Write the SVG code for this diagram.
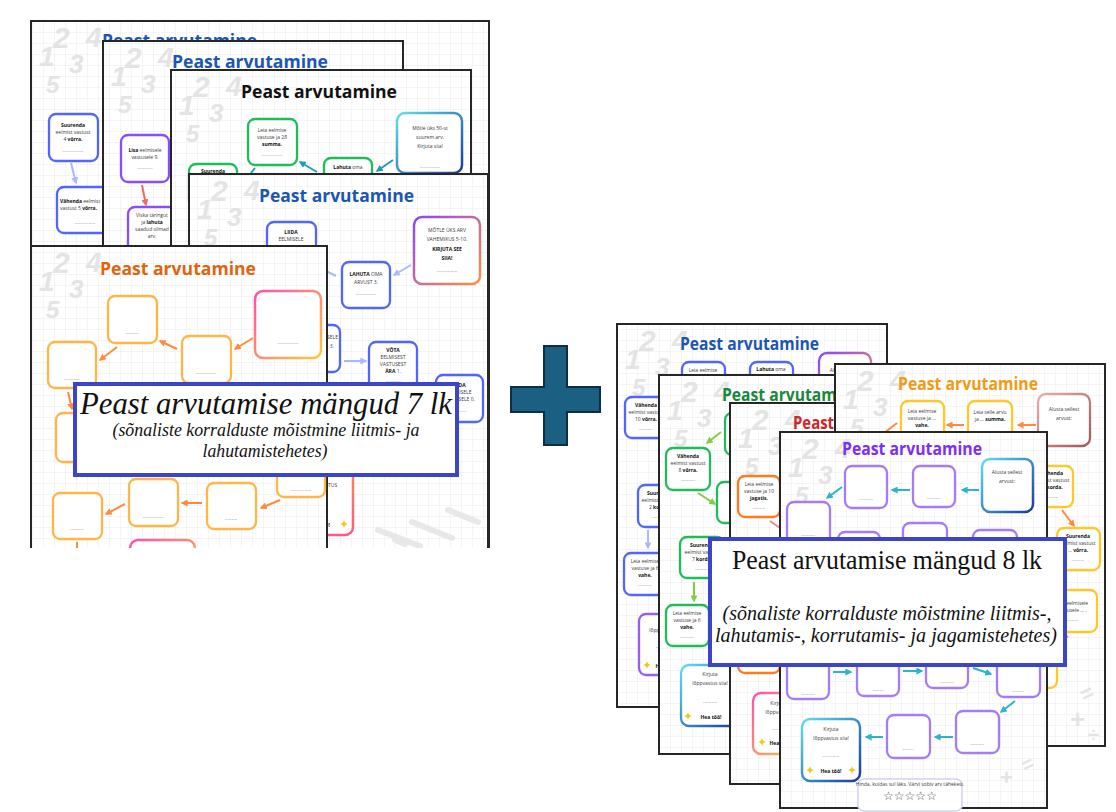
<svg xmlns="http://www.w3.org/2000/svg" width="1116" height="812" viewBox="0 0 1116 812">
<defs>
<style>
.pg{fill:url(#grid);stroke:#262626;stroke-width:2}
.bx{fill:#fff;stroke-width:2.3}
.bl{stroke:#5266ff}
.pu{stroke:#8c4bff}
.gr{stroke:#1fbd5a}
.oy{stroke:#ffb547}
.ye{stroke:#ffc82a}
.vp{stroke:#a67cf6}
.or{stroke:#ff7a1f}
.s{font-family:"Open Sans","Liberation Sans",sans-serif;font-size:5px;fill:#3a3a3a;text-anchor:middle}
.b{font-weight:700;fill:#111}
.d{font-family:"Liberation Sans",sans-serif;font-size:5px;fill:#555;text-anchor:middle}
.ti{font-family:"Open Sans","Liberation Sans",sans-serif;font-weight:700;font-size:18px}
.nm{font-family:"Liberation Sans",sans-serif;font-weight:700;font-style:italic;fill:#e4e4e4}
.ar{fill:none;stroke-width:2}
.lab{fill:#fff;stroke:#3b45c9;stroke-width:4}
.ls{font-family:"Liberation Serif","Times New Roman",serif;fill:#111;text-anchor:middle}
.deco{stroke:#e8e8e8;stroke-width:6;stroke-linecap:round;fill:none}
.mth{font-family:"Liberation Sans",sans-serif;font-weight:700;fill:#e4e4e4}
</style>
<pattern id="grid" width="11" height="11" patternUnits="userSpaceOnUse"><rect width="11" height="11" fill="#fff"/><path d="M11 0V11H0" fill="none" stroke="#e6e6e6" stroke-width="0.8"/></pattern>
<linearGradient id="g1" x1="0" y1="0" x2="1" y2="1"><stop offset="0" stop-color="#5fe0ec"/><stop offset="1" stop-color="#1a3a9e"/></linearGradient>
<linearGradient id="g2" x1="0" y1="0" x2="1" y2="1"><stop offset="0" stop-color="#8a47ff"/><stop offset="1" stop-color="#ff8f40"/></linearGradient>
<linearGradient id="g3" x1="0" y1="0" x2="1" y2="1"><stop offset="0" stop-color="#ff4fae"/><stop offset="1" stop-color="#ffc93c"/></linearGradient>
<linearGradient id="g4" x1="0" y1="0" x2="1" y2="1"><stop offset="0" stop-color="#e6b0b0"/><stop offset="1" stop-color="#a85454"/></linearGradient>
<linearGradient id="g6" x1="0" y1="0" x2="0" y2="1"><stop offset="0" stop-color="#ff9a3c"/><stop offset="1" stop-color="#ff5a86"/></linearGradient>
<marker id="mLb" viewBox="0 0 10 10" refX="8" refY="5" markerWidth="3.5" markerHeight="3.5" orient="auto"><path d="M0,0L10,5L0,10z" fill="#a9b8ff"/></marker>
<marker id="mTe" viewBox="0 0 10 10" refX="8" refY="5" markerWidth="3.5" markerHeight="3.5" orient="auto"><path d="M0,0L10,5L0,10z" fill="#1f9db8"/></marker>
<marker id="mRd" viewBox="0 0 10 10" refX="8" refY="5" markerWidth="3.5" markerHeight="3.5" orient="auto"><path d="M0,0L10,5L0,10z" fill="#f06a60"/></marker>
<marker id="mOr" viewBox="0 0 10 10" refX="8" refY="5" markerWidth="3.5" markerHeight="3.5" orient="auto"><path d="M0,0L10,5L0,10z" fill="#ff8a3d"/></marker>
<marker id="mGr" viewBox="0 0 10 10" refX="8" refY="5" markerWidth="3.5" markerHeight="3.5" orient="auto"><path d="M0,0L10,5L0,10z" fill="#84cc44"/></marker>
<marker id="mCy" viewBox="0 0 10 10" refX="8" refY="5" markerWidth="3.5" markerHeight="3.5" orient="auto"><path d="M0,0L10,5L0,10z" fill="#2ab4d0"/></marker>
<g id="nums" class="nm">
<text x="8" y="45" font-size="28">1</text>
<text x="22" y="27" font-size="30">2</text>
<text x="55" y="26" font-size="28">4</text>
<text x="38" y="52" font-size="26">3</text>
<text x="15" y="72" font-size="24">5</text>
</g>
<path id="sp" d="M0,-4Q0.6,-0.6 4,0Q0.6,0.6 0,4Q-0.6,0.6 -4,0Q-0.6,-0.6 0,-4z" fill="#f5c518"/>
<clipPath id="cl"><rect x="0" y="0" width="500" height="548"/></clipPath>
</defs>
<rect width="1116" height="812" fill="#fff"/>

<g id="left-stack" clip-path="url(#cl)">
<g id="page-a1">
<rect class="pg" x="31" y="21" width="458" height="540"/>
<use href="#nums" x="31" y="21"/>
<text class="ti" x="102" y="47" textLength="155" lengthAdjust="spacingAndGlyphs" fill="#1b56b5">Peast arvutamine</text>
<rect class="bx bl" x="49" y="114" width="49" height="47" rx="7"/>
<text class="s" x="73" y="127"><tspan class="b">Suurenda</tspan></text>
<text class="s" x="73" y="134">eelmist vastust</text>
<text class="s" x="73" y="141">4 <tspan class="b">võrra.</tspan></text>
<text class="d" x="73" y="152">...............</text>
<path class="ar" stroke="#a9b8ff" d="M71,163L76,183" marker-end="url(#mLb)"/>
<rect class="bx bl" x="57" y="187" width="55" height="46" rx="7"/>
<text class="s" x="60" y="203" style="text-anchor:start"><tspan class="b">Vähenda</tspan> eelmist</text>
<text class="s" x="60" y="210" style="text-anchor:start">vastust 5 <tspan class="b">võrra.</tspan></text>
<text class="d" x="85" y="224">...............</text>
</g>

<g id="page-a2">
<rect class="pg" x="103" y="41" width="300" height="520"/>
<use href="#nums" x="103" y="41"/>
<text class="ti" x="172" y="68" textLength="156" lengthAdjust="spacingAndGlyphs" fill="#1b56b5">Peast arvutamine</text>
<rect class="bx pu" x="121" y="135" width="48" height="47" rx="7"/>
<text class="s" x="145" y="152"><tspan class="b">Lisa</tspan> eelmisele</text>
<text class="s" x="145" y="159">vastusele 9.</text>
<text class="d" x="145" y="169">...........</text>
<path class="ar" stroke="#f06a60" d="M142,185L146,205" marker-end="url(#mRd)"/>
<rect class="bx pu" x="128" y="207" width="48" height="50" rx="7"/>
<text class="s" x="152" y="217">Viska täringut</text>
<text class="s" x="152" y="224">ja <tspan class="b">lahuta</tspan></text>
<text class="s" x="152" y="231">saadud silmad</text>
<text class="s" x="152" y="238">arv.</text>
</g>

<g id="page-a3">
<rect class="pg" x="171" y="70" width="300" height="490"/>
<use href="#nums" x="171" y="70"/>
<text class="ti" x="241" y="98" textLength="156" lengthAdjust="spacingAndGlyphs" fill="#111">Peast arvutamine</text>
<rect class="bx gr" x="248" y="119" width="49" height="46" rx="7"/>
<text class="s" x="272" y="132">Leia eelmise</text>
<text class="s" x="272" y="139">vastuse ja 28</text>
<text class="s" x="272" y="146"><tspan class="b">summa.</tspan></text>
<text class="d" x="272" y="156">...............</text>
<rect class="bx gr" x="189" y="164" width="48" height="44" rx="7"/>
<text class="s" x="213" y="173"><tspan class="b">Suurenda</tspan></text>
<rect class="bx gr" x="324" y="158" width="48" height="44" rx="7"/>
<text class="s" x="348" y="169"><tspan class="b">Lahuta</tspan> oma</text>
<rect x="397" y="113" width="65" height="60" rx="8" fill="#fff" stroke="url(#g1)" stroke-width="2.5"/>
<text class="s" x="430" y="130" font-size="5.8">Mõtle üks 50-st</text>
<text class="s" x="430" y="139" font-size="5.8">suurem arv.</text>
<text class="s" x="430" y="148" font-size="5.8">Kirjuta siia!</text>
<text class="d" x="430" y="168">...............</text>
<path class="ar" stroke="#1f9db8" d="M393,160L377,171" marker-end="url(#mTe)"/>
<path class="ar" stroke="#1f9db8" d="M317,172L300,162" marker-end="url(#mTe)"/>
<path class="ar" stroke="#1f9db8" d="M255,168L251,173"/>
</g>

<g id="page-a4">
<rect class="pg" x="189" y="174" width="299" height="390"/>
<use href="#nums" x="189" y="174"/>
<text class="ti" x="259" y="202" textLength="155" lengthAdjust="spacingAndGlyphs" fill="#1b56b5">Peast arvutamine</text>
<rect class="bx bl" x="267" y="222" width="49" height="46" rx="7"/>
<text class="s" x="291" y="234"><tspan class="b">LIIDA</tspan></text>
<text class="s" x="291" y="241">EELMISELE</text>
<rect class="bx bl" x="342" y="262" width="48" height="46" rx="7"/>
<text class="s" x="366" y="276"><tspan class="b">LAHUTA</tspan> OMA</text>
<text class="s" x="366" y="284">ARVUST 3.</text>
<text class="d" x="366" y="295">...............</text>
<rect x="414" y="217" width="66" height="67" rx="8" fill="#fff" stroke="url(#g2)" stroke-width="2.5"/>
<text class="s" x="447" y="232" font-size="5.6">MÕTLE ÜKS ARV</text>
<text class="s" x="447" y="241" font-size="5.6">VAHEMIKUS 5-10.</text>
<text class="s" x="447" y="251" font-size="5.6"><tspan class="b">KIRJUTA SEE</tspan></text>
<text class="s" x="447" y="260" font-size="5.6"><tspan class="b">SIIA!</tspan></text>
<text class="d" x="447" y="272">...............</text>
<path class="ar" stroke="#a9b8ff" d="M411,265L394,275" marker-end="url(#mLb)"/>
<path class="ar" stroke="#a9b8ff" d="M336,276L326,271"/>
<rect class="bx bl" x="300" y="325" width="40" height="47" rx="7"/>
<text class="s" x="338" y="339" style="text-anchor:end">EELMISELE</text>
<text class="s" x="334" y="348" style="text-anchor:end">3.</text>
<path class="ar" stroke="#a9b8ff" d="M344,361L366,361" marker-end="url(#mLb)"/>
<rect class="bx bl" x="369" y="342" width="48" height="50" rx="7"/>
<text class="s" x="393" y="352"><tspan class="b">VÕTA</tspan></text>
<text class="s" x="393" y="359">EELMISEST</text>
<text class="s" x="393" y="366">VASTUSEST</text>
<text class="s" x="393" y="373"><tspan class="b">ÄRA</tspan> 1.</text>
<text class="d" x="393" y="382">...........</text>
<rect class="bx bl" x="436" y="375" width="47" height="47" rx="7"/>
<text class="s" x="459" y="387"><tspan class="b">LIIDA</tspan></text>
<text class="s" x="459" y="394">EELMISELE</text>
<text class="s" x="459" y="401">VASTUSELE 0.</text>
<text class="d" x="459" y="412">...........</text>
<rect x="291" y="440" width="62" height="95" rx="8" fill="#fff" stroke="url(#g6)" stroke-width="2.5"/>
<text class="s" x="322" y="477">KIRJUTA</text>
<text class="s" x="322" y="487">LÕPPVASTUS</text>
<text class="s" x="322" y="497">SIIA!</text>
<text class="d" x="322" y="508">.........</text>
<text class="s" x="318" y="527" font-size="6"><tspan class="b">HEA TÖÖ!</tspan></text>
<use href="#sp" x="344" y="524"/>
<path class="deco" d="M378,530L420,546M412,522L452,538M448,510L478,522M395,540L405,544"/>
</g>

<g id="page-a5">
<rect class="pg" x="31" y="246" width="296" height="320"/>
<use href="#nums" x="31" y="246"/>
<text class="ti" x="100" y="275" textLength="156" lengthAdjust="spacingAndGlyphs" fill="#e2630d">Peast arvutamine</text>
<rect class="bx oy" x="108" y="296" width="49" height="47" rx="7"/>
<text class="d" x="132" y="334">..........</text>
<rect x="255" y="291" width="66" height="67" rx="8" fill="#fff" stroke="url(#g3)" stroke-width="2.5"/>
<text class="d" x="288" y="344">...............</text>
<rect class="bx oy" x="182" y="336" width="49" height="47" rx="7"/>
<text class="d" x="206" y="374">...............</text>
<rect class="bx oy" x="48" y="342" width="48" height="46" rx="7"/>
<text class="d" x="72" y="380">...........</text>
<rect class="bx oy" x="56" y="413" width="48" height="49" rx="7"/>
<text class="d" x="80" y="452">..........</text>
<rect class="bx oy" x="277" y="448" width="48" height="49" rx="7"/>
<text class="d" x="301" y="491">...............</text>
<rect class="bx oy" x="207" y="483" width="49" height="46" rx="7"/>
<text class="d" x="231" y="520">.........</text>
<rect class="bx oy" x="129" y="479" width="49" height="47" rx="7"/>
<text class="d" x="153" y="518">...............</text>
<rect class="bx oy" x="53" y="493" width="49" height="46" rx="7"/>
<text class="d" x="77" y="530">..........</text>
<rect x="130" y="540" width="65" height="40" rx="8" fill="#fff" stroke="url(#g3)" stroke-width="2.5"/>
<path class="ar" stroke="#ff8a3d" d="M253,338L235,349" marker-end="url(#mOr)"/>
<path class="ar" stroke="#ff8a3d" d="M177,349L160,341" marker-end="url(#mOr)"/>
<path class="ar" stroke="#ff8a3d" d="M117,347L100,360" marker-end="url(#mOr)"/>
<path class="ar" stroke="#ff8a3d" d="M68,392L72,409" marker-end="url(#mOr)"/>
<path class="ar" stroke="#ff8a3d" d="M280,500L261,508" marker-end="url(#mOr)"/>
<path class="ar" stroke="#ff8a3d" d="M202,503L182,503" marker-end="url(#mOr)"/>
<path class="ar" stroke="#ff8a3d" d="M125,504L106,514" marker-end="url(#mOr)"/>
<path class="ar" stroke="#ff8a3d" d="M77,542L77,552"/>
</g>
</g>

<g id="label-7lk">
<rect class="lab" x="75" y="384" width="382" height="91"/>
<text class="ls" x="266" y="414" font-size="31" font-style="italic" textLength="372" lengthAdjust="spacingAndGlyphs">Peast arvutamise mängud 7 lk</text>
<text class="ls" x="266" y="436" font-size="19" font-style="italic" textLength="307" lengthAdjust="spacingAndGlyphs">(sõnaliste korralduste mõistmine liitmis- ja</text>
<text class="ls" x="265" y="457" font-size="19" font-style="italic" textLength="125" lengthAdjust="spacingAndGlyphs">lahutamistehetes)</text>
</g>

<g id="plus">
<path d="M544,346H567V387H600V412H567V445H544V412H511V387H544Z" fill="#1b5f82" stroke="#0d2f45" stroke-width="2"/>
</g>

<g id="right-stack">
<g id="page-b1">
<rect class="pg" x="617" y="324" width="270" height="383"/>
<use href="#nums" x="617" y="324"/>
<text class="ti" x="680" y="350" font-size="16" textLength="139" lengthAdjust="spacingAndGlyphs" fill="#1b56b5">Peast arvutamine</text>
<rect class="bx bl" x="682" y="362" width="43" height="40" rx="7"/>
<text class="s" x="703" y="372" font-size="4.5">Leia eelmise</text>
<rect class="bx bl" x="750" y="362" width="43" height="40" rx="7"/>
<text class="s" x="771" y="371" font-size="4.5"><tspan class="b">Lahuta</tspan> oma</text>
<rect x="819" y="353" width="52" height="50" rx="8" fill="#fff" stroke="url(#g2)" stroke-width="2.3"/>
<text class="s" x="845" y="372">Alusta sellest</text>
<rect class="bx bl" x="625" y="397" width="43" height="41" rx="7"/>
<text class="s" x="646" y="407" font-size="4.5"><tspan class="b">Vähenda</tspan></text>
<text class="s" x="646" y="414" font-size="4.5">eelmist vastust</text>
<text class="s" x="646" y="421" font-size="4.5">10 <tspan class="b">võrra.</tspan></text>
<text class="d" x="646" y="430">..........</text>
<rect class="bx bl" x="638" y="485" width="43" height="42" rx="7"/>
<text class="s" x="659" y="495" font-size="4.5"><tspan class="b">Suurenda</tspan></text>
<text class="s" x="659" y="502" font-size="4.5">eelmist vastust</text>
<text class="s" x="659" y="509" font-size="4.5">2 <tspan class="b">korda.</tspan></text>
<text class="d" x="659" y="518">..........</text>
<path class="ar" stroke="#a9b8ff" d="M648,530L648,548" marker-end="url(#mLb)"/>
<rect class="bx bl" x="624" y="553" width="43" height="42" rx="7"/>
<text class="s" x="645" y="563" font-size="4.5">Leia eelmise</text>
<text class="s" x="645" y="570" font-size="4.5">vastuse ja 6</text>
<text class="s" x="645" y="577" font-size="4.5"><tspan class="b">vahe.</tspan></text>
<text class="d" x="645" y="586">..........</text>
<rect class="bx" stroke="#9b5cf6" x="639" y="614" width="43" height="61" rx="7"/>
<text class="s" x="662" y="632">lõppvastus</text>
<text class="d" x="662" y="648">.........</text>
<use href="#sp" x="647" y="665"/>
<text class="s" x="666" y="668"><tspan class="b">Hea töö!</tspan></text>
</g>

<g id="page-b2">
<rect class="pg" x="659" y="375" width="270" height="379"/>
<use href="#nums" x="659" y="375"/>
<text class="ti" x="722" y="401" font-size="16" textLength="139" lengthAdjust="spacingAndGlyphs" fill="#17893a">Peast arvutamine</text>
<rect class="bx gr" x="725" y="413" width="43" height="42" rx="7"/>
<path class="ar" stroke="#84cc44" d="M721,432L707,443" marker-end="url(#mGr)"/>
<rect class="bx gr" x="666" y="448" width="44" height="42" rx="7"/>
<text class="s" x="688" y="458" font-size="4.5"><tspan class="b">Vähenda</tspan></text>
<text class="s" x="688" y="465" font-size="4.5">eelmist vastust</text>
<text class="s" x="688" y="472" font-size="4.5">8 <tspan class="b">võrra.</tspan></text>
<text class="d" x="688" y="481">..........</text>
<path class="ar" stroke="#84cc44" d="M698,493L715,504" marker-end="url(#mGr)"/>
<rect class="bx gr" x="717" y="482" width="43" height="41" rx="7"/>
<rect class="bx gr" x="680" y="537" width="44" height="41" rx="7"/>
<text class="s" x="702" y="547" font-size="4.5"><tspan class="b">Suurenda</tspan></text>
<text class="s" x="702" y="554" font-size="4.5">eelmist vastust</text>
<text class="s" x="702" y="561" font-size="4.5">7 <tspan class="b">korda.</tspan></text>
<text class="d" x="702" y="570">..........</text>
<path class="ar" stroke="#84cc44" d="M694,582L694,601" marker-end="url(#mGr)"/>
<rect class="bx gr" x="666" y="605" width="43" height="41" rx="7"/>
<text class="s" x="687" y="615" font-size="4.5">Leia eelmise</text>
<text class="s" x="687" y="622" font-size="4.5">vastuse ja 6</text>
<text class="s" x="687" y="629" font-size="4.5"><tspan class="b">vahe.</tspan></text>
<text class="d" x="687" y="638">..........</text>
<rect x="681" y="665" width="58" height="61" rx="8" fill="#fff" stroke="url(#g1)" stroke-width="2.3"/>
<text class="s" x="710" y="676">Kirjuta</text>
<text class="s" x="710" y="685">lõppvastus siia!</text>
<text class="d" x="710" y="703">..........</text>
<use href="#sp" x="688" y="716"/>
<text class="s" x="711" y="719"><tspan class="b">Hea töö!</tspan></text>
<use href="#sp" x="733" y="716"/>
</g>

<g id="page-b3">
<rect class="pg" x="730" y="403" width="270" height="381"/>
<use href="#nums" x="730" y="403"/>
<text class="ti" x="793" y="429" font-size="16" textLength="41" lengthAdjust="spacingAndGlyphs" fill="#d0262a">Peast</text>
<rect class="bx or" x="738" y="476" width="42" height="41" rx="7"/>
<text class="s" x="759" y="486" font-size="4.5">Leia eelmise</text>
<text class="s" x="759" y="493" font-size="4.5">vastuse ja 10</text>
<text class="s" x="759" y="500" font-size="4.5"><tspan class="b">jagatis.</tspan></text>
<text class="d" x="759" y="509">.........</text>
<path class="ar" stroke="#f08a80" d="M770,521L780,528"/>
<rect class="bx or" x="738" y="620" width="42" height="53" rx="7"/>
<rect x="753" y="693" width="50" height="61" rx="8" fill="#fff" stroke="url(#g3)" stroke-width="2.3"/>
<text class="s" x="778" y="705">Kirjuta</text>
<text class="s" x="778" y="714">lõppvastus</text>
<text class="d" x="778" y="730">.........</text>
<use href="#sp" x="762" y="742"/>
<text class="s" x="780" y="745"><tspan class="b">Hea töö!</tspan></text>
</g>

<g id="page-b4">
<rect class="pg" x="835" y="364" width="270" height="382"/>
<use href="#nums" x="835" y="364"/>
<text class="ti" x="898" y="390" font-size="16" textLength="140" lengthAdjust="spacingAndGlyphs" fill="#f29a12">Peast arvutamine</text>
<rect x="1038" y="394" width="52" height="52" rx="8" fill="#fff" stroke="url(#g4)" stroke-width="2.3"/>
<text class="s" x="1064" y="411" font-size="5.5">Alusta sellest</text>
<text class="s" x="1064" y="420" font-size="5.5">arvust:</text>
<rect class="bx ye" x="968" y="401" width="44" height="42" rx="7"/>
<text class="s" x="990" y="414" font-size="4.3">Leia selle arvu</text>
<text class="s" x="990" y="421" font-size="4.3">ja ... <tspan class="b">summa.</tspan></text>
<rect class="bx ye" x="901" y="401" width="43" height="42" rx="7"/>
<text class="s" x="922" y="413" font-size="4.3">Leia eelmise</text>
<text class="s" x="922" y="420" font-size="4.3">vastuse ja ...</text>
<text class="s" x="922" y="427" font-size="4.3"><tspan class="b">vahe.</tspan></text>
<path class="ar" stroke="#ff8a3d" d="M1036,425L1018,425" marker-end="url(#mOr)"/>
<path class="ar" stroke="#ff8a3d" d="M964,425L947,425" marker-end="url(#mOr)"/>
<path class="ar" stroke="#ff8a3d" d="M897,423L884,433"/>
<rect class="bx ye" x="1031" y="466" width="42" height="41" rx="7"/>
<text class="s" x="1052" y="475" font-size="4.3"><tspan class="b">Vähenda</tspan></text>
<text class="s" x="1052" y="482" font-size="4.3">eelmist vastust</text>
<text class="s" x="1052" y="489" font-size="4.3">... <tspan class="b">korda.</tspan></text>
<text class="d" x="1052" y="498">.........</text>
<path class="ar" stroke="#ff8a3d" d="M1062,510L1074,526" marker-end="url(#mOr)"/>
<rect class="bx ye" x="1057" y="528" width="43" height="42" rx="7"/>
<text class="s" x="1078" y="538" font-size="4.3"><tspan class="b">Suurenda</tspan></text>
<text class="s" x="1078" y="545" font-size="4.3">eelmist vastust</text>
<text class="s" x="1078" y="552" font-size="4.3">... <tspan class="b">võrra.</tspan></text>
<text class="d" x="1078" y="561">.........</text>
<rect class="bx ye" x="1047" y="590" width="50" height="42" rx="7"/>
<text class="s" x="1072" y="605" font-size="4.3">Lisa eelmisele</text>
<text class="s" x="1072" y="612" font-size="4.3">vastusele ... .</text>
<text class="d" x="1072" y="621">.........</text>
<path class="ar" stroke="#ff8a3d" d="M1068,636L1057,647" marker-end="url(#mOr)"/>
<rect class="bx ye" x="1013" y="642" width="44" height="46" rx="7"/>
<text class="mth" x="1080" y="700" font-size="22" transform="rotate(-25 1088 692)">=</text>
<text class="mth" x="1070" y="728" font-size="26">+</text>
<text class="mth" x="1088" y="742" font-size="20">÷</text>
</g>

<g id="page-b5">
<rect class="pg" x="780" y="432" width="267" height="376"/>
<use href="#nums" x="780" y="432"/>
<text class="ti" x="842" y="455" font-size="16" textLength="140" lengthAdjust="spacingAndGlyphs" fill="#7b2ff2">Peast arvutamine</text>
<rect x="982" y="459" width="51" height="53" rx="8" fill="#fff" stroke="url(#g1)" stroke-width="2.5"/>
<text class="s" x="1007" y="474" font-size="5.5">Alusta sellest</text>
<text class="s" x="1007" y="483" font-size="5.5">arvust:</text>
<rect class="bx vp" x="913" y="466" width="42" height="41" rx="7"/>
<text class="d" x="934" y="499">..........</text>
<rect class="bx vp" x="845" y="466" width="42" height="42" rx="7"/>
<text class="d" x="866" y="500">..........</text>
<rect class="bx vp" x="787" y="502" width="43" height="45" rx="7"/>
<text class="d" x="808" y="536">..........</text>
<path class="ar" stroke="#2ab4d0" d="M979,490L962,490" marker-end="url(#mCy)"/>
<path class="ar" stroke="#2ab4d0" d="M910,490L892,490" marker-end="url(#mCy)"/>
<path class="ar" stroke="#2ab4d0" d="M842,487L827,498" marker-end="url(#mCy)"/>
<rect class="bx vp" x="838" y="532" width="42" height="42" rx="7" fill="#a67cf6"/>
<rect class="bx vp" x="903" y="523" width="44" height="42" rx="7"/>
<rect class="bx vp" x="973" y="530" width="44" height="42" rx="7"/>
<rect class="bx vp" x="787" y="655" width="42" height="44" rx="7"/>
<text class="d" x="808" y="695">..........</text>
<rect class="bx vp" x="857" y="652" width="42" height="44" rx="7"/>
<text class="d" x="878" y="691">........</text>
<rect class="bx vp" x="926" y="645" width="42" height="43" rx="7"/>
<text class="d" x="947" y="683">..........</text>
<rect class="bx vp" x="997" y="654" width="43" height="43" rx="7"/>
<text class="d" x="1018" y="692">........</text>
<path class="ar" stroke="#2ab4d0" d="M833,672L851,672" marker-end="url(#mCy)"/>
<path class="ar" stroke="#2ab4d0" d="M903,671L922,671" marker-end="url(#mCy)"/>
<path class="ar" stroke="#2ab4d0" d="M973,668L991,674" marker-end="url(#mCy)"/>
<path class="ar" stroke="#2ab4d0" d="M1015,701L1001,712" marker-end="url(#mCy)"/>
<rect class="bx vp" x="956" y="711" width="43" height="42" rx="7"/>
<text class="d" x="977" y="745">..........</text>
<rect class="bx vp" x="887" y="715" width="43" height="43" rx="7"/>
<text class="d" x="908" y="750">........</text>
<path class="ar" stroke="#2ab4d0" d="M953,737L935,737" marker-end="url(#mCy)"/>
<path class="ar" stroke="#2ab4d0" d="M883,737L866,737" marker-end="url(#mCy)"/>
<rect x="802" y="719" width="58" height="62" rx="8" fill="#fff" stroke="url(#g1)" stroke-width="2.5"/>
<text class="s" x="831" y="731">Kirjuta</text>
<text class="s" x="831" y="740">lõppvastus siia!</text>
<text class="d" x="831" y="757">............</text>
<use href="#sp" x="810" y="770"/>
<text class="s" x="831" y="773"><tspan class="b">Hea töö!</tspan></text>
<use href="#sp" x="852" y="770"/>
<rect x="858" y="779" width="104" height="32" rx="6" fill="#fff" stroke="#cfd2ee" stroke-width="1.5"/>
<text class="s" x="910" y="786" font-size="3.6">Hinda, kuidas sul läks. Värvi sobiv arv tähekesi.</text>
<text x="910" y="800" font-family="DejaVu Sans, sans-serif" font-size="12" fill="#555" text-anchor="middle">☆☆☆☆☆</text>
<text class="mth" x="1000" y="785" font-size="22">+</text>
<text class="mth" x="1022" y="770" font-size="20" transform="rotate(-25 1030 764)">=</text>
</g>
</g>

<g id="label-8lk">
<rect class="lab" x="710" y="539" width="355" height="126" stroke-width="4.5"/>
<text class="ls" x="887" y="569" font-size="27" textLength="310" lengthAdjust="spacingAndGlyphs">Peast arvutamise mängud 8 lk</text>
<text class="ls" x="887" y="620" font-size="21" font-style="italic" textLength="329" lengthAdjust="spacingAndGlyphs">(sõnaliste korralduste mõistmine liitmis-,</text>
<text class="ls" x="886" y="642" font-size="21" font-style="italic" textLength="342" lengthAdjust="spacingAndGlyphs">lahutamis-, korrutamis- ja jagamistehetes)</text>
</g>
</svg>
